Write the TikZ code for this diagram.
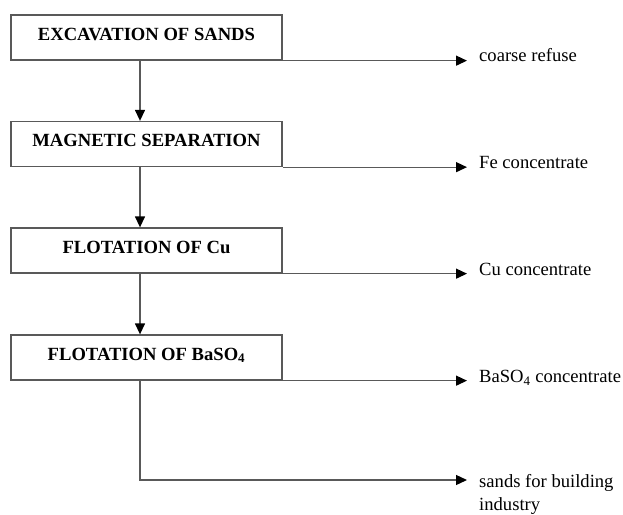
\documentclass[tikz,border=0pt]{standalone}
\usepackage{fontspec}
\setmainfont{Liberation Serif}
\usetikzlibrary{arrows.meta,positioning}

\begin{document}
\begin{tikzpicture}[x=1pt,y=-1pt,
  stagebox/.style={draw=black!65,line width=1.3pt,minimum width=271pt,
    minimum height=45pt,inner sep=0pt,text height=12.3pt,text depth=7pt,
    font=\fontsize{18.6}{20}\selectfont\bfseries},
  outlabel/.style={anchor=base west,inner sep=0pt,align=left,
    font=\fontsize{18.6}{23}\selectfont},
  flow/.style={draw=black!65,line width=1.3pt,
    -{Triangle[length=11pt,width=10pt,color=black]}}]
  \useasboundingbox (0,0) rectangle (623,514);

  %% process stages
  \node[stagebox] (b1) at (146.5,37.5) {EXCAVATION OF SANDS};
  \node[stagebox] (b2) at (146.5,144)  {MAGNETIC SEPARATION};
  \node[stagebox] (b3) at (146.5,250.5) {FLOTATION OF Cu};
  \node[stagebox] (b4) at (146.5,357.5) {FLOTATION OF BaSO\textsubscript{4}};

  %% main stream
  \coordinate (trunk) at (140,0);
  \draw[flow] (b1.south -| trunk) -- (b2.north -| trunk);
  \draw[flow] (b2.south -| trunk) -- (b3.north -| trunk);
  \draw[flow] (b3.south -| trunk) -- (b4.north -| trunk);

  %% products
  \coordinate (e1) at (467,0 |- b1.south);
  \coordinate (e2) at (467,0 |- b2.south);
  \coordinate (e3) at (467,0 |- b3.south);
  \coordinate (e4) at (467,0 |- b4.south);
  \coordinate (e5) at (467,480);
  \draw[flow] (b1.south east) -- (e1);
  \draw[flow] (b2.south east) -- (e2);
  \draw[flow] (b3.south east) -- (e3);
  \draw[flow] (b4.south east) -- (e4);
  \draw[flow] (b4.south -| trunk) |- (e5);

  \node[outlabel] (l1) at ([xshift=12pt,yshift=-1pt]e1) {coarse refuse};
  \node[outlabel] (l2) at ([xshift=12pt,yshift=-1pt]e2) {Fe concentrate};
  \node[outlabel] (l3) at ([xshift=12pt,yshift=-2pt]e3) {Cu concentrate};
  \node[outlabel] (l4) at ([xshift=12pt,yshift=-2pt]e4) {BaSO\textsubscript{4} concentrate};
  \node[outlabel] (l5) at ([xshift=12pt,yshift=-30pt]e5) {sands for building\\industry};
\end{tikzpicture}
\end{document}
